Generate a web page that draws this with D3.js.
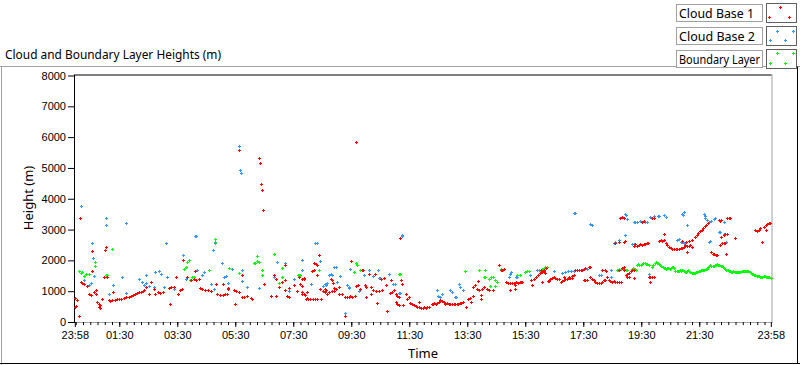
<!DOCTYPE html>
<html><head><meta charset="utf-8">
<script src="https://cdn.jsdelivr.net/npm/d3@7"></script>
<style>
body{margin:0;background:#fff}
svg{display:block}
text{font-family:"Segoe UI","Noto Sans","Liberation Sans",sans-serif;fill:#000}
</style>
</head><body>
<svg id="chart" width="800" height="365"></svg>
<script>
// ---------------- data ----------------
const chartTitle = "Cloud and Boundary Layer Heights (m)";
const seriesNames = ["Cloud Base 1", "Cloud Base 2", "Boundary Layer"];
const seriesColors = ["#ff0000", "#3399ff", "#00ff00"];
const xTickLabels = ["23:58","01:30","03:30","05:30","07:30","09:30","11:30","13:30","15:30","17:30","19:30","21:30","23:58"];
const yTickValues = [0,1000,2000,3000,4000,5000,6000,7000,8000];
// [hours after 23:58 start, height m]
const cloudBase1 = [
[0.0,480],[0.0,790],[0.08,700],[0.14,190],[0.03,505],[0.17,3390],[0.2,1290],[0.25,1260],[0.31,1220],[0.42,1160],[0.5,920],[0.55,890],[0.6,1640],[0.6,2300],[0.66,970],[0.72,1030],[0.72,920],[0.77,640],[0.83,590],[0.83,500],[0.88,540],[0.88,450],[0.95,755],[1.0,1460],[1.03,2350],[1.06,2440],[1.12,1460],
[1.17,700],[1.2,690],[1.28,720],[1.32,970],[1.39,730],[1.45,740],[1.52,760],[1.6,760],[1.7,790],[1.76,800],[1.86,820],[1.95,860],[2.0,880],[2.07,900],[2.14,940],[2.2,960],[2.28,970],[2.34,1000],[2.4,1030],[2.45,1130],[2.55,920],[2.62,1300],[2.72,1080],[2.78,895],[2.86,960],[2.93,940],[3.03,960],[3.24,1100],[3.3,1150],[3.41,1130],[3.48,1460],[3.55,920],[3.62,1030],[3.7,1080],[3.27,590],[3.74,2000],[3.87,1460],[4.0,1350],[4.1,1380],[4.17,1360],[4.28,1390],[4.16,1650],[4.33,1100],[4.4,1080],[4.5,1030],[4.6,1030],[4.7,1020],[4.86,1240],[4.9,900],[5.0,880],[5.1,880],[5.17,900],[5.24,920],[5.1,1240],[5.28,1100],[5.3,1060],[5.5,1030],[5.55,1000],[5.66,980],[5.52,570],[5.76,810],[5.75,1510],[5.83,800],[5.93,830],[6.07,790],[6.1,760],
[5.67,5580],[6.36,5320],[6.39,5150],[6.42,4470],[6.46,4270],[6.49,3620],[6.52,1240],[6.76,860],[6.93,830],[6.86,1540],[6.95,1400],[7.03,1130],[7.14,1300],[7.24,1350],[7.24,1030],[7.33,860],[7.38,800],[7.4,1100],[7.26,1840],[7.55,1200],[7.67,1000],[7.72,1450],[7.9,1420],[7.97,760],[8.05,760],[8.1,740],[7.84,960],[8.0,960],
[7.78,1240],[7.83,1160],[7.83,920],[7.9,920],[7.95,870],[8.0,790],[8.1,760],[8.2,750],[8.28,740],[8.36,760],[7.83,1410],[7.9,1410],[8.24,1900],[8.3,1870],[8.36,1840],[8.24,1680],[8.19,1640],[8.36,1540],[8.41,2160],[8.47,1080],[8.5,760],[8.55,1000],[8.62,960],[8.7,920],[8.76,980],[8.86,1000],[8.93,1020],[8.62,1080],[8.67,1050],[8.82,1410],[8.88,1350],[8.9,1260],[8.93,1110],[9.0,1080],[9.1,1150],[9.1,920],[9.2,900],[9.3,820],[9.38,820],[9.45,800],[9.5,830],[9.57,820],[9.66,850],[9.53,1990],[9.33,190],[9.7,5840],[9.7,1160],[9.75,1190],[9.83,1080],[9.9,1680],[9.95,1680],[10.0,1210],[10.03,1150],[10.03,810],[10.14,1550],[10.2,1130],[10.2,920],[10.3,1050],[10.4,1000],[10.35,1570],[10.43,630],[10.5,1000],[10.6,1050],[10.55,1410],[10.66,1440],[10.77,370],[10.72,1190],[10.86,950],[10.93,960],[10.9,1350],[11.0,1030],[11.06,920],[11.1,850],[11.17,810],[11.06,650],[11.1,590],[11.17,540],[11.21,2710],[11.24,1350],[11.3,1240],[11.32,560],[11.42,900],[11.45,760],[11.52,810],[11.55,610],[11.62,580],[11.7,560],[11.75,510],[11.8,490],[11.86,480],[11.93,470],[12.0,470],[12.05,480],[12.1,470],[12.15,480],[12.2,490],[11.86,640],[12.3,600],[12.35,590],[12.4,610],[12.45,600],[12.5,620],[12.55,640],[12.6,700],[12.66,680],[12.72,650],[12.78,600],[12.84,610],[12.9,580],[12.95,580],[13.0,590],[13.07,600],[13.12,590],[13.17,580],[13.22,600],[13.27,610],[13.32,620],[13.4,640],[13.5,500],[13.55,760],[13.62,790],[13.66,650],[13.72,830],[13.72,1130],[13.8,1190],[13.86,1080],[13.93,1030],[13.9,1320],[14.02,890],[14.0,760],[14.05,1080],[14.1,1130],[14.2,1080],[14.28,1030],[14.42,1030],[14.62,1860],[14.68,1680],[14.74,1680],[14.79,1730],[14.86,1300],[14.93,1280],[15.0,1260],[15.07,1270],[15.14,1280],[15.2,1300],[15.28,1260],[15.35,1290],[15.4,1300],[15.0,1030],[15.17,1080],[15.17,1190],[15.43,1300],[15.72,1350],[15.76,1190],[15.83,1410],[15.9,1460],[15.97,1510],[16.03,1600],[16.1,1650],[16.17,1700],[16.24,1760],[16.32,1320],
[16.06,1680],[16.12,1620],[16.17,1650],[16.2,1590],[16.1,1300],[16.34,1350],[16.4,1400],[16.45,1430],[16.52,1460],[16.57,1440],[16.62,1400],[16.69,1380],[16.34,1320],[16.75,1300],[16.8,1330],[16.86,1350],[16.92,1380],[16.98,1400],[17.03,1420],[17.09,1440],[17.14,1430],[16.86,1460],[17.03,1460],[17.14,1500],[17.21,1520],[17.26,1680],[17.32,1680],[17.38,1680],[17.44,1690],[17.5,1700],[17.55,1710],[17.61,1740],[17.72,1780],[17.78,1800],[17.55,1350],[17.61,1360],[17.67,1370],[17.78,1450],[17.84,1400],[17.9,1350],[17.95,1300],[18.01,1270],[18.07,1250],[18.13,1260],[18.18,1300],[18.24,1350],[18.3,1360],[18.19,1680],[18.28,1680],[18.33,1660],[18.36,1460],[18.41,1360],[18.47,1340],[18.53,1310],[18.59,1320],[18.64,1300],[18.7,1310],[18.76,1300],[18.82,1310],[18.87,1750],[18.93,1770],[18.76,1680],[18.93,1680],[19.0,1520],[19.05,1560],[19.1,1600],[19.17,1640],[19.22,1680],[19.28,1690],[19.05,1460],[19.1,1460],[19.28,1440],
[19.8,1460],[19.85,1450],[19.9,1470],[19.97,1450],[19.85,1300],
[18.64,2570],[18.76,2600],[18.93,2600],[18.98,2620],[18.81,3360],[18.86,3410],[18.93,3390],[19.28,2480],[19.33,2520],[19.38,2460],[19.45,2490],[19.5,2530],[19.55,2490],[19.62,2520],[19.67,2540],[19.72,2560],[19.78,2580],[19.56,3250],[19.62,3270],[19.91,3360],[19.97,3390],[20.14,2620],[20.2,2650],[20.26,2630],[20.31,2650],[20.31,2840],[20.38,2550],[20.43,2490],[20.5,2440],[20.55,2400],[20.6,2380],[20.66,2380],[20.72,2380],[20.78,2380],[20.83,2380],[20.9,2400],[20.95,2400],[21.0,2440],[21.05,2490],[21.1,2460],[21.17,2460],[21.22,2490],[21.28,2440],[20.95,2630],[21.07,2610],[21.17,2640],[21.28,2650],[21.12,2270],
[21.4,2760],[21.45,2820],[21.5,2880],[21.55,2940],[21.62,3000],[21.67,3060],[21.72,3120],[21.78,3160],[21.84,3200],[21.95,2270],[22.0,2220],[22.05,2200],[22.1,2170],[22.16,2170],[22.2,3300],[22.26,3280],[22.3,3310],[22.26,2490],[22.32,2550],[22.38,2550],[22.43,2570],[22.3,2760],[22.37,2820],[22.43,2850],[22.5,2870],[22.44,2200],[22.5,3360],[22.56,3380],[22.61,3390],[22.78,2740],
[23.47,2980],[23.53,2960],[23.59,3000],[23.64,3040],[23.7,2600],[23.76,3090],[23.82,3140],[23.88,3180],[23.93,3200],[23.97,3220],[23.82,2980]
];
const cloudBase2 = [
[0.2,3760],[0.31,1370],[0.5,1190],[0.6,2550],[0.62,2080],[0.66,1480],[0.57,1260],[1.06,3360],[1.06,3140],[1.31,1210],[1.19,920],[1.63,1460],[1.75,3200],[1.75,940],[2.21,1380],[2.3,1300],[2.38,1200],[2.45,1250],[2.46,1540],[2.55,1180],[2.72,1150],[2.78,1620],[2.9,1650],[2.96,1570],[3.07,1150],[3.17,1450],[3.13,2580],[3.41,1080],[3.72,2170],[3.82,1410],[4.14,2780],[4.18,2780],[4.22,1680],[4.4,1510],[4.46,1620],[4.69,1240],[4.79,1080],[4.76,2350],[4.83,2550],[5.06,1930],[5.14,1450],[5.2,1500],[5.3,1250],[5.42,1730],[5.77,1680],[5.75,1330],[5.94,1130],[6.34,1110],[5.67,5710],[5.7,4930],[5.74,4830],[6.86,1460],[6.98,1950],[7.26,1930],[7.38,1000],[7.55,1380],[7.84,2000],[7.83,1680],[8.13,1240],[8.28,2550],[8.34,2550],[8.47,1970],[8.55,1160],[8.62,1230],[8.66,1190],[8.7,1250],
[8.76,1540],[8.83,1570],[8.87,1540],[8.93,1790],[8.99,1790],[9.05,1300],[9.13,1480],[9.33,290],[9.39,1200],[9.45,1140],[9.47,1100],[9.5,1730],[9.79,1000],[9.97,1540],[10.14,1680],[10.28,1490],[10.46,1700],[10.48,1430],[10.54,1430],[10.85,1570],[10.98,1240],[11.03,1240],[11.17,950],[11.23,950],[11.27,2820],[11.29,2790],
[12.49,1030],[12.52,860],[12.6,810],[12.66,900],[12.95,1030],[13.0,970],[13.1,810],[13.14,810],[13.24,1240],[13.28,1130],[13.4,1050],[15.05,1620],[15.0,1550],[14.97,1460],[15.2,1460],[15.25,1460],[15.71,1540],[15.94,1700],[16.0,1700],[16.07,1700],[16.52,1660],[16.8,1590],[16.9,1620],[17.0,1640],[17.1,1650],[17.2,1660],[17.67,1730],[17.72,1770],[18.07,1540],[18.13,1530],[18.48,1460],[18.5,1680],
[17.21,3530],[17.26,3550],[17.78,3170],[17.84,3140],[18.59,2580],[18.64,2600],[18.76,2660],[18.97,3490],[19.01,3470],[19.05,3330],[18.97,2820],[19.28,3260],[19.33,3250],[19.4,3240],[19.5,3270],[19.55,3250],[19.67,3260],[19.73,3240],[19.22,2520],[19.28,2520],[19.79,1570],[19.85,3410],[19.97,3430],[20.1,3440],[20.16,3440],[20.31,3470],[20.37,3410],[20.78,2660],[20.83,2680],[20.9,2600],[20.95,2600],[21.0,2550],[20.95,3520],[20.99,3580],[20.97,3470],[21.11,3140],[21.69,3520],[21.74,3440],[21.72,3380],[21.8,3300],[21.86,3250],[21.95,3290],[22.03,3340],[22.09,3370],[21.86,2600],[21.92,2620],[22.21,2930],[22.26,2930],[22.38,3250],[22.38,2870],[22.44,2600]
];
const boundaryLayer = [
[0.14,1650],[0.2,1580],[0.26,1620],[0.31,1480],[0.4,1550],[0.48,1570],[0.71,1950],[0.71,1810],[1.08,1510],[1.12,1510],[1.29,2380],[3.76,1730],[3.82,1770],[3.87,1950],[3.93,2000],[3.98,1370],[4.04,1460],[4.1,1460],[4.64,1700],[4.82,2680],[4.84,2600],[5.33,1750],[5.66,1590],[6.17,1910],[6.23,1900],[6.29,1980],[6.34,1950],[6.29,2140],[6.44,1700],[6.46,1510],[6.86,2220],[7.03,1260],[7.13,1460],[7.15,1760],[7.7,1510],[7.72,1510],[7.78,1510],[8.41,1680],[9.68,1900],[9.74,1860],[9.62,1620],[9.85,1680],[9.91,1680],[11.17,1570],[11.2,1570],[13.47,1650],[13.93,1680],[14.16,1680],[14.1,1470],[14.16,1460],[14.28,1410],[14.3,1160],[14.36,1460],[14.42,1460],[14.5,1350],[14.55,1300],[14.5,1160],[14.68,1730],[14.75,1700],[15.25,1540],[15.36,1540],[15.54,1620],[15.6,1650],[15.65,1640],[16.0,1700],[16.06,1660],[16.1,1730],[16.17,1760],[16.23,1780],[16.29,1770],
[18.7,1680],[18.74,1700],[18.78,1730],[18.82,1730],[18.86,1760],[18.9,1740],[18.94,1730],[18.99,1700],[19.04,1690],[19.22,1730],[19.26,1760],[19.3,1730],[19.35,1700],[19.39,1850],[19.43,1880],[19.47,1860],[19.52,1860],[19.56,1880],[19.6,1900],[19.65,1900],[19.7,1870],[19.74,1880],[19.79,1850],[19.91,1800],[19.95,1850],[19.99,1900],[20.03,1940],[20.07,1930],[20.11,1920],[20.15,1870],[20.19,1840],[20.23,1830],[20.27,1800],[20.31,1760],[20.35,1740],[20.39,1730],[20.43,1760],[20.47,1740],[20.51,1730],[20.55,1760],[20.59,1780],[20.63,1800],[20.67,1760],[20.71,1660],[20.75,1650],[20.79,1660],[20.83,1650],[20.87,1680],[20.91,1670],[20.95,1680],[20.99,1650],[21.03,1630],[21.07,1620],[21.11,1650],[21.15,1680],[21.19,1660],[21.23,1620],[21.27,1590],[21.31,1590],[21.35,1580],[21.39,1590],[21.43,1610],[21.47,1630],[21.51,1650],[21.55,1670],[21.59,1690],[21.63,1700],[21.67,1690],[21.71,1700],[21.75,1710],[21.79,1730],[21.83,1780],[21.87,1810],[21.91,1840],[21.95,1820],[21.99,1810],[22.03,1830],[22.07,1840],[22.11,1860],[22.15,1870],[22.19,1850],[22.23,1840],[22.27,1820],[22.31,1810],[22.35,1780],[22.39,1750],[22.43,1730],[22.47,1700],[22.51,1680],[22.55,1650],[22.59,1640],[22.63,1630],[22.67,1620],[22.71,1640],[22.75,1620],[22.79,1610],[22.83,1630],[22.87,1620],[22.91,1610],[22.95,1630],[22.99,1650],[23.03,1660],[23.07,1640],[23.11,1650],[23.15,1660],[23.19,1640],[23.23,1650],[23.27,1620],[23.31,1600],[23.35,1570],[23.39,1550],[23.43,1530],[23.47,1510],[23.51,1500],[23.55,1490],[23.59,1480],[23.63,1470],[23.67,1460],[23.71,1470],[23.75,1480],[23.79,1490],[23.83,1470],[23.87,1460],[23.91,1470],[23.95,1450],[23.99,1440]
];

// ---------------- chart ----------------
const svg = d3.select("#chart");
const start = new Date(2000, 0, 1, 23, 58);
const end = new Date(2000, 0, 2, 23, 58);
const toDate = h => new Date(start.getTime() + h * 3600000);
const L = 74.5, R = 771.5, T = 75.5, B = 322;
const x = d3.scaleTime().domain([start, end]).range([L + 0.3, R - 0.7]);
const y = d3.scaleLinear().domain([0, 8000]).range([B, T]);

// outer panel frame
svg.append("line").attr("x1", 0).attr("x2", 800).attr("y1", 66.5).attr("y2", 66.5).attr("stroke", "#a0a0a0");
svg.append("line").attr("x1", 1.5).attr("x2", 1.5).attr("y1", 66.5).attr("y2", 365).attr("stroke", "#a0a0a0");
svg.append("line").attr("x1", 0).attr("x2", 800).attr("y1", 363.5).attr("y2", 363.5).attr("stroke", "#000");
svg.append("line").attr("x1", 797.5).attr("x2", 797.5).attr("y1", 66.5).attr("y2", 364).attr("stroke", "#000");

// title
svg.append("text").attr("x", 5).attr("y", 59).style("font-size", "12px").attr("textLength", 216).attr("lengthAdjust", "spacingAndGlyphs").text(chartTitle);

// plot frame
svg.append("rect").attr("x", L).attr("y", T - 1).attr("width", R - L).attr("height", B - T + 1).attr("fill", "#fff").attr("stroke", "none");
svg.append("line").attr("x1", L).attr("x2", R).attr("y1", B + 0.5).attr("y2", B + 0.5).attr("stroke", "#a0a0a0");
svg.append("line").attr("x1", R + 0.5).attr("x2", R + 0.5).attr("y1", T - 1).attr("y2", B + 1).attr("stroke", "#a0a0a0");
svg.append("line").attr("x1", L).attr("x2", R).attr("y1", T - 0.5).attr("y2", T - 0.5).attr("stroke", "#000");
svg.append("line").attr("x1", L).attr("x2", L).attr("y1", T - 1).attr("y2", B + 1).attr("stroke", "#000");

// y axis
const yAxis = svg.append("g").attr("transform", `translate(${L - 0.5},0)`)
  .call(d3.axisLeft(y).tickValues(yTickValues).tickSize(6).tickPadding(2).tickFormat(d3.format("d")));
yAxis.select(".domain").remove();
yAxis.selectAll("text").style("font-size", "11px").style("font-family", "'Liberation Sans',Arial,sans-serif").attr("fill", "#111");
yAxis.selectAll("line").attr("stroke", "#000");

// x axis
const minorTicks = d3.timeMinute.every(15).range(start, end);
const xMinor = svg.append("g").attr("transform", `translate(0,${B})`)
  .call(d3.axisBottom(x).tickValues(minorTicks).tickSize(3).tickFormat(""));
xMinor.select(".domain").remove();
xMinor.selectAll("line").attr("stroke", "#000");
const majorTicks = xTickLabels.map((s, i) => {
  if (i === 0) return start;
  if (i === xTickLabels.length - 1) return end;
  const [hh, mm] = s.split(":").map(Number);
  return new Date(2000, 0, 2, hh, mm);
});
const xMajor = svg.append("g").attr("transform", `translate(0,${B})`)
  .call(d3.axisBottom(x).tickValues(majorTicks).tickSize(5).tickPadding(4).tickFormat((d, i) => xTickLabels[i]));
xMajor.select(".domain").remove();
xMajor.selectAll("line").attr("stroke", "#000");
xMajor.selectAll("text").style("font-size", "11px").style("font-family", "'Liberation Sans',Arial,sans-serif").attr("fill", "#111");

// axis labels
svg.append("text").attr("x", 423).attr("y", 358).attr("text-anchor", "middle").style("font-size", "13px").text("Time");
svg.append("text").attr("transform", "translate(33,198) rotate(-90)").attr("text-anchor", "middle").style("font-size", "13px").attr("fill", "#300000").text("Height (m)");

// markers
function plus(sel, px, py, color) {
  const cx = Math.round(px), cy = Math.round(py);
  sel.append("path").attr("d", `M${cx - 1},${cy + 0.5}h3M${cx + 0.5},${cy - 1}v3`)
    .attr("stroke", color).attr("stroke-width", 1).attr("fill", "none").attr("shape-rendering", "crispEdges");
}
const plot = svg.append("g");
const allSeries = [boundaryLayer, cloudBase2, cloudBase1];
const allColors = [seriesColors[2], seriesColors[1], seriesColors[0]];
allSeries.forEach((s, i) => {
  const g = plot.append("g");
  s.forEach(d => plus(g, x(toDate(d[0])), y(d[1]), allColors[i]));
});

// legend
const legendWidths = [75, 76, 81];
const legendMarks = [[[780,7],[769,17],[789,17]], [[777,31],[793,31],[770,40],[785,40]], [[777,53],[793,53],[770,63],[785,63]]];
seriesNames.forEach((name, i) => {
  const y0 = 4 + i * 23;
  svg.append("rect").attr("x", 676.5).attr("y", y0 + 0.5).attr("width", 86).attr("height", 17).attr("fill", "#fff").attr("stroke", "#a0a0a0");
  svg.append("text").attr("x", 679).attr("y", y0 + 13.5).style("font-size", "12.5px")
    .attr("textLength", legendWidths[i]).attr("lengthAdjust", "spacingAndGlyphs").text(name);
  svg.append("rect").attr("x", 766.5).attr("y", y0 - 0.5).attr("width", 30).attr("height", 19).attr("fill", "#fff").attr("stroke", "#606060");
  legendMarks[i].forEach(p => plus(svg, p[0], p[1], seriesColors[i]));
});
</script>
</body></html>
